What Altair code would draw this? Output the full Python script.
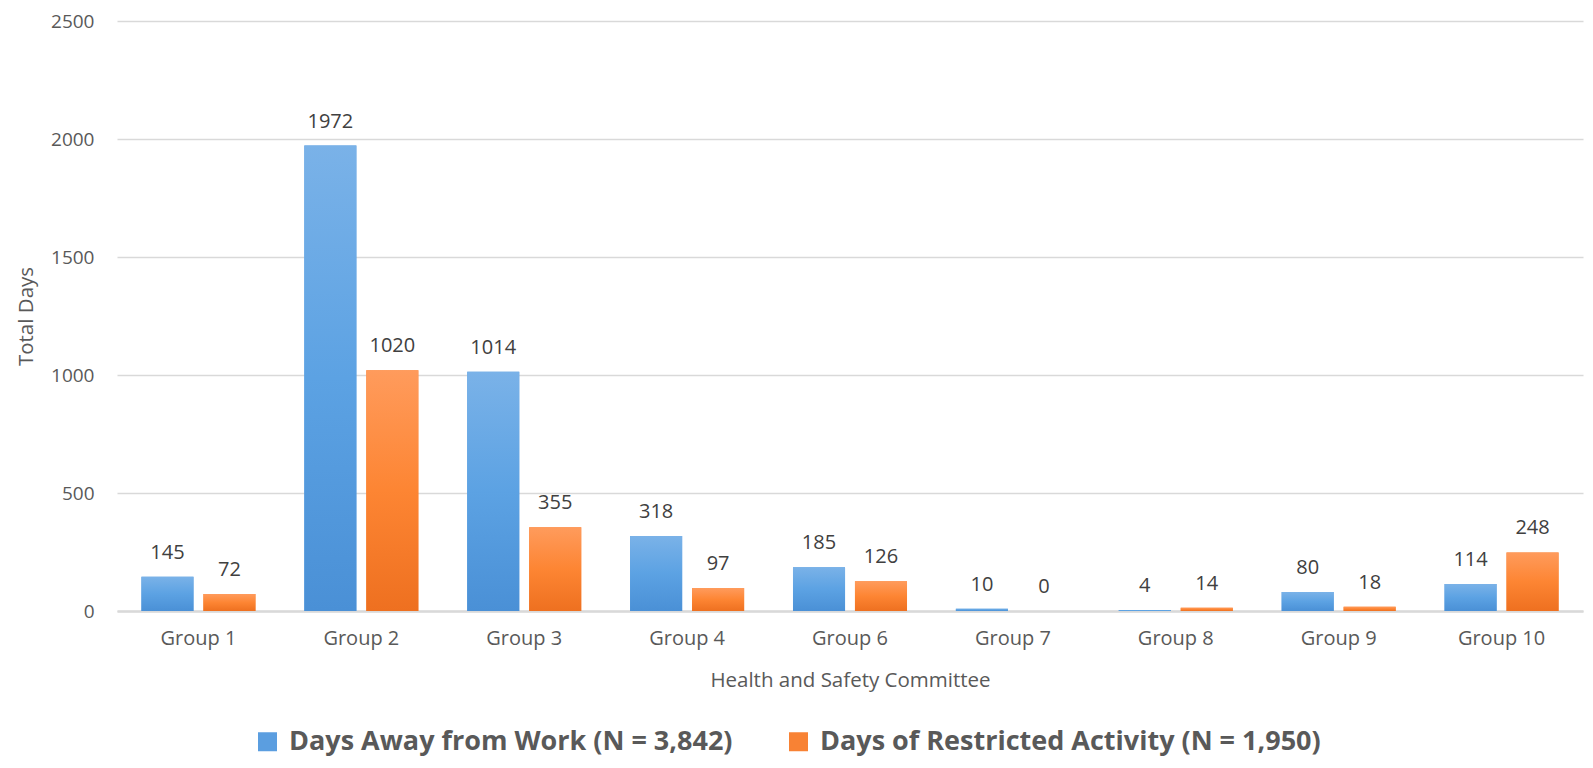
import altair as alt
import pandas as pd

groups = ["Group 1", "Group 2", "Group 3", "Group 4", "Group 6", "Group 7", "Group 8", "Group 9", "Group 10"]
days_away = [145, 1972, 1014, 318, 185, 10, 4, 80, 114]
days_restricted = [72, 1020, 355, 97, 126, 0, 14, 18, 248]
series_names = ["Days Away from Work (N = 3,842)", "Days of Restricted Activity (N = 1,950)"]
y_ticks = [0, 500, 1000, 1500, 2000, 2500]

rows = []
for g, a, r in zip(groups, days_away, days_restricted):
    rows.append({"group": g, "series": series_names[0], "value": a})
    rows.append({"group": g, "series": series_names[1], "value": r})
df = pd.DataFrame(rows)

FONT = "Open Sans"
TXT = "#595959"

x_enc = alt.X("group:N", sort=groups,
              scale=alt.Scale(paddingInner=0.3, paddingOuter=0.15),
              axis=alt.Axis(title="Health and Safety Committee", labelAngle=0, ticks=False,
                            labelPadding=17, titlePadding=22, labelFontSize=20, titleFontSize=20.5,
                            titleFontWeight="normal",
                            labelColor=TXT, titleColor=TXT, labelFont=FONT, titleFont=FONT,
                            domainColor="#d9d9d9", domainWidth=2.5, grid=False))
xo_enc = alt.XOffset("series:N", sort=series_names,
                     scale=alt.Scale(paddingInner=0.16, paddingOuter=0))
y_enc = alt.Y("value:Q",
              scale=alt.Scale(domain=[0, 2500], nice=False),
              axis=alt.Axis(title="Total Days", values=y_ticks, format="d", ticks=False, domain=False,
                            labelPadding=23, titlePadding=14, labelFontSize=19, titleFontSize=20.5,
                            titleFontWeight="normal",
                            labelColor=TXT, titleColor=TXT, labelFont=FONT, titleFont=FONT,
                            gridColor="#d9d9d9", gridWidth=1.5))

base = alt.Chart(df).encode(x=x_enc, xOffset=xo_enc, y=y_enc)

legend_bars = base.mark_bar().encode(
    color=alt.Color("series:N", sort=series_names,
                    scale=alt.Scale(domain=series_names, range=["#5b9ee0", "#f88234"]),
                    legend=alt.Legend(title=None, orient="none", direction="horizontal",
                                      legendX=137, legendY=707, padding=0,
                                      symbolType="square",
                                      symbolSize=361, symbolStrokeWidth=0,
                                      labelFontSize=27, labelFontWeight="bold", labelFont=FONT,
                                      labelColor=TXT, labelOffset=8, columnPadding=52,
                                      labelLimit=800))
)

blue_grad = alt.Gradient(gradient="linear", x1=0, x2=0, y1=0, y2=1,
                         stops=[alt.GradientStop(offset=0, color="#7ab2e8"),
                                alt.GradientStop(offset=0.5, color="#5ca2e3"),
                                alt.GradientStop(offset=1, color="#4a90d6")])
orange_grad = alt.Gradient(gradient="linear", x1=0, x2=0, y1=0, y2=1,
                           stops=[alt.GradientStop(offset=0, color="#ff9b5c"),
                                  alt.GradientStop(offset=0.5, color="#fd8533"),
                                  alt.GradientStop(offset=1, color="#ee7020")])

blue_bars = base.transform_filter(alt.datum.series == series_names[0]).mark_bar(color=blue_grad)
orange_bars = base.transform_filter(alt.datum.series == series_names[1]).mark_bar(color=orange_grad)

labels = base.mark_text(baseline="bottom", dy=-14, fontSize=20, font=FONT, color="#404040").encode(
    text="value:Q")

chart = alt.layer(legend_bars, blue_bars, orange_bars, labels).properties(
    width=1466, height=590,
    background="white",
    autosize=alt.AutoSizeParams(type="none"),
    padding={"left": 109, "top": 13, "right": 2, "bottom": 149},
).configure_view(stroke=None)

chart.save("out.html", embed_options={"renderer": "svg", "actions": False})
